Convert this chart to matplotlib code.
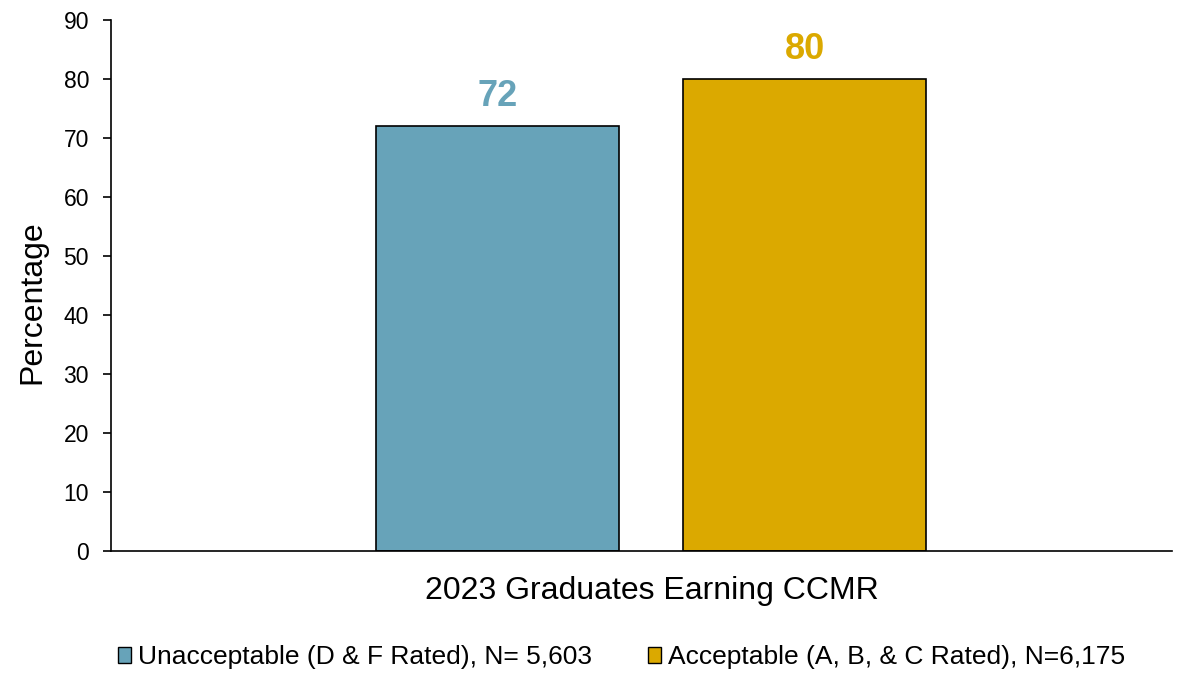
import matplotlib
matplotlib.use("Agg")
import matplotlib.pyplot as plt
from matplotlib.patches import Patch

plt.rcParams['font.family'] = ['Liberation Sans', 'DejaVu Sans']

category = "2023 Graduates Earning CCMR"
series_labels = ["Unacceptable (D & F Rated), N= 5,603", "Acceptable (A, B, & C Rated), N=6,175"]
values = [72, 80]
colors = ["#67A3B9", "#DBA900"]
yticks = [0, 10, 20, 30, 40, 50, 60, 70, 80, 90]

fig = plt.figure(figsize=(11.86, 6.74), dpi=100)
ax = fig.add_axes([111/1186, 1-551/674, (1172-111)/1186, (551-20)/674])

width = 0.229
offsets = [-0.1449, 0.1449]
for v, c, off in zip(values, colors, offsets):
    ax.bar(off, v, width=width, color=c, edgecolor='black', linewidth=1.2, zorder=2)
    ax.text(off, v + 3.4, f"{v}", ha='center', va='baseline', fontsize=26,
            fontweight='bold', color=c)

ax.set_xlim(-0.509, 0.491)
ax.set_ylim(0, 90)
ax.set_yticks(yticks)
ax.tick_params(axis='y', labelsize=16.5, length=5.8, width=1.2, direction='out', pad=10)
ax.set_xticks([])
ax.set_xlabel(category, fontsize=23)
ax.set_ylabel("Percentage", fontsize=23)
ax.xaxis.set_label_coords(0.5094, -0.048)
ax.yaxis.set_label_coords(-0.060, 0.468)
for s in ['top', 'right']:
    ax.spines[s].set_visible(False)
for s in ['left', 'bottom']:
    ax.spines[s].set_linewidth(1.2)

handles = [Patch(facecolor=c, edgecolor='black', linewidth=1) for c in colors]
fig.legend(handles, series_labels, loc='center', bbox_to_anchor=(621.5/1186, 1-657/674),
           ncol=2, frameon=False, fontsize=19, handlelength=0.5, handleheight=0.55,
           handletextpad=0.27, columnspacing=2.1)

fig.savefig("out.png", dpi=100)
